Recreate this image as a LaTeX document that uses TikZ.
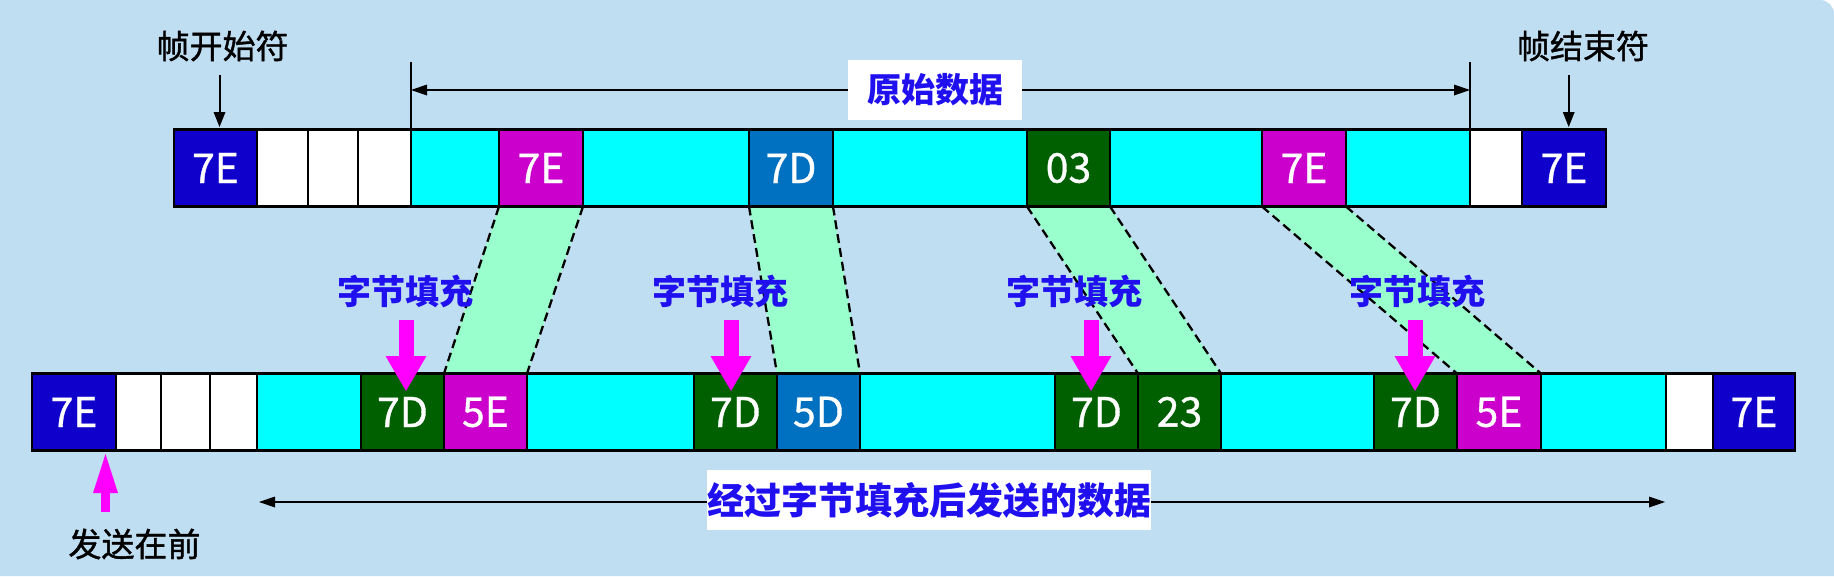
\documentclass[tikz,border=0pt]{standalone}
\usepackage{fontspec}
\newfontfamily\cjk{Noto Sans CJK SC}
\newfontfamily\cjkm{Noto Sans CJK SC}[FakeBold=1.2]
\newfontfamily\hexf{Noto Sans CJK SC}[FakeBold=0.8]
\usetikzlibrary{arrows.meta,calc}
\definecolor{bgblue}{HTML}{C0DEF2}
\definecolor{frameblue}{HTML}{1000CC}
\definecolor{escmag}{HTML}{CC00CC}
\definecolor{ctlblue}{HTML}{0070C0}
\definecolor{escgreen}{HTML}{006000}
\definecolor{datacyan}{HTML}{00FFFF}
\definecolor{bandgreen}{HTML}{99FFCC}
\definecolor{arrowmag}{HTML}{FF00FF}
\definecolor{labelblue}{HTML}{2010F0}
\pgfdeclarelayer{back}
\pgfdeclarelayer{bands}
\pgfsetlayers{back,bands,main}
\newcommand\mycell[6]{\node[cell,fill=#5,minimum width={#3pt-#2pt}] (#1) at ({(#2+#3)/2},#4) {#6};}
\begin{document}
\begin{tikzpicture}[x=1pt,y=-1pt,
  cell/.style={draw=black,line width=2.3pt,inner sep=0pt,outer sep=0pt,minimum height=77pt,text=white,font=\hexf\fontsize{41}{41}\selectfont},
  blacklbl/.style={inner sep=0pt,text=black,font=\cjkm\fontsize{33}{33}\selectfont},
  bluelbl/.style={inner sep=0pt,text=labelblue,font=\cjk\bfseries\fontsize{34}{34}\selectfont},
  band/.style={fill=bandgreen},
  bandedge/.style={draw=black,line width=2.3pt,dash pattern=on 9pt off 5pt},
  padarrow/.style={draw=arrowmag,line width=15pt,-{Triangle[width=41pt,length=35pt,line width=0pt]}},
  firstarrow/.style={draw=arrowmag,line width=9pt,-{Triangle[width=25pt,length=39pt,line width=0pt]}},
  pointer/.style={draw=black,line width=2pt,-{Triangle[width=12pt,length=15pt,line width=0pt]}},
  dimline/.style={draw=black,line width=2.2pt,{Triangle[width=11pt,length=16pt,line width=0pt]}-{Triangle[width=11pt,length=16pt,line width=0pt]}},
  tick/.style={draw=black,line width=2pt}
]
\useasboundingbox (0,0) rectangle (1834,576);
\begin{pgfonlayer}{back}
\fill[white] (0,0) rectangle (1834,576);
\fill[bgblue] (0,576) -- (0,0) -- (1820,0) arc[start angle=-90,end angle=0,radius=14] -- (1834,576) -- cycle;
\end{pgfonlayer}

% top row: original data
\mycell{t1}{174}{257}{168}{frameblue}{7E}
\mycell{t2}{257}{308}{168}{white}{}
\mycell{t3}{308}{358}{168}{white}{}
\mycell{t4}{358}{411}{168}{white}{}
\mycell{t5}{411}{499}{168}{datacyan}{}
\mycell{t6}{499}{583}{168}{escmag}{7E}
\mycell{t7}{583}{749}{168}{datacyan}{}
\mycell{t8}{749}{833}{168}{ctlblue}{7D}
\mycell{t9}{833}{1027}{168}{datacyan}{}
\mycell{t10}{1027}{1110}{168}{escgreen}{03}
\mycell{t11}{1110}{1262}{168}{datacyan}{}
\mycell{t12}{1262}{1346}{168}{escmag}{7E}
\mycell{t13}{1346}{1470}{168}{datacyan}{}
\mycell{t14}{1470}{1522}{168}{white}{}
\mycell{t15}{1522}{1606}{168}{frameblue}{7E}

% bottom row: stuffed data
\mycell{b1}{32}{116}{412}{frameblue}{7E}
\mycell{b2}{116}{161}{412}{white}{}
\mycell{b3}{161}{210}{412}{white}{}
\mycell{b4}{210}{257}{412}{white}{}
\mycell{b5}{257}{361}{412}{datacyan}{}
\mycell{b6}{361}{444}{412}{escgreen}{7D}
\mycell{b7}{444}{527}{412}{escmag}{5E}
\mycell{b8}{527}{694}{412}{datacyan}{}
\mycell{b9}{694}{777}{412}{escgreen}{7D}
\mycell{b10}{777}{860}{412}{ctlblue}{5D}
\mycell{b11}{860}{1055}{412}{datacyan}{}
\mycell{b12}{1055}{1138}{412}{escgreen}{7D}
\mycell{b13}{1138}{1221}{412}{escgreen}{23}
\mycell{b14}{1221}{1374}{412}{datacyan}{}
\mycell{b15}{1374}{1457}{412}{escgreen}{7D}
\mycell{b16}{1457}{1541}{412}{escmag}{5E}
\mycell{b17}{1541}{1666}{412}{datacyan}{}
\mycell{b18}{1666}{1713}{412}{white}{}
\mycell{b19}{1713}{1795}{412}{frameblue}{7E}

% mapping bands
\begin{pgfonlayer}{bands}
\foreach \u/\l in {t6/b7,t8/b10,t10/b13,t12/b16}{
  \fill[band] (\u.south west) -- (\u.south east) -- (\l.north east) -- (\l.north west) -- cycle;
  \draw[bandedge] (\u.south west) -- (\l.north west);
  \draw[bandedge] (\u.south east) -- (\l.north east);
}
\end{pgfonlayer}

% labels
\node[blacklbl] (startlbl) at (222.6,46) {帧开始符};
\node[blacklbl] (endlbl) at (1583,46) {帧结束符};
\node[blacklbl] (firstlbl) at (134.5,544) {发送在前};

\coordinate (sa0) at (219.5,75);
\coordinate (sa1) at (219.5,127);
\draw[pointer] (sa0) -- (sa1);
\coordinate (ea0) at (1568.7,75);
\coordinate (ea1) at (1568.7,127);
\draw[pointer] (ea0) -- (ea1);

% dimension line: original data
\coordinate (dl) at (411,62);
\coordinate (dr) at (1470,62);
\coordinate (dla) at (411,90);
\coordinate (dra) at (1470,90);
\draw[tick] (t5.north west) -- (dl);
\draw[tick] (t14.north west) -- (dr);
\draw[dimline] (dla) -- (dra);
\node[bluelbl,fill=white,minimum width=174pt,minimum height=60pt] (origlbl) at (935,90) {原始数据};

% dimension line: stuffed data
\coordinate (bl) at (259,502);
\coordinate (br) at (1665,502);
\draw[dimline] (bl) -- (br);
\node[bluelbl,font=\cjk\bfseries\fontsize{37}{37}\selectfont,fill=white,minimum width=442pt,minimum height=60pt] (sentlbl) at (929,500) {经过字节填充后发送的数据};

% byte stuffing labels and arrows
\node[bluelbl] (f1) at (405,291) {字节填充};
\node[bluelbl] (f2) at (720,291) {字节填充};
\node[bluelbl] (f3) at (1074,291) {字节填充};
\node[bluelbl] (f4) at (1417,291) {字节填充};

\coordinate (p1s) at (406,320);  \coordinate (p1e) at (406,391);
\coordinate (p2s) at (731,320);  \coordinate (p2e) at (731,391);
\coordinate (p3s) at (1091,320); \coordinate (p3e) at (1091,391);
\coordinate (p4s) at (1415,320); \coordinate (p4e) at (1415,391);
\draw[padarrow] (p1s) -- (p1e);
\draw[padarrow] (p2s) -- (p2e);
\draw[padarrow] (p3s) -- (p3e);
\draw[padarrow] (p4s) -- (p4e);

\coordinate (fa0) at (105.5,512);
\coordinate (fa1) at (105.5,454);
\draw[firstarrow] (fa0) -- (fa1);
\end{tikzpicture}
\end{document}
